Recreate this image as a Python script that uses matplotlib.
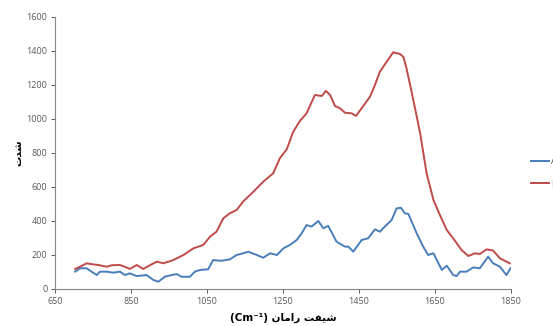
import matplotlib
matplotlib.use("Agg")
import matplotlib.pyplot as plt

# ---- data ----
red_x = [703, 715, 733, 750, 764, 786, 800, 821, 835, 847, 865, 882, 900, 918, 935, 961,
         988, 1014, 1040, 1058, 1075, 1093, 1110, 1128, 1145, 1172, 1198, 1224, 1242, 1260,
         1277, 1295, 1312, 1334, 1352, 1363, 1374, 1387, 1400, 1413, 1431, 1442, 1457, 1479,
         1492, 1505, 1523, 1540, 1558, 1567, 1575, 1593, 1611, 1628, 1646, 1663, 1681, 1698,
         1720, 1738, 1755, 1768, 1786, 1803, 1821, 1847]
red_y = [118, 130, 151, 145, 141, 131, 140, 141, 130, 118, 141, 118, 140, 161, 151, 170,
         200, 239, 259, 308, 337, 416, 445, 465, 514, 572, 631, 680, 770, 822,
         925, 990, 1033, 1141, 1135, 1165, 1141, 1076, 1063, 1037, 1033, 1018, 1063, 1131,
         1200, 1278, 1337, 1392, 1382, 1365, 1298, 1112, 916, 680, 523, 435, 347, 298,
         229, 194, 210, 206, 233, 226, 180, 151]

blue_x = [703, 716, 733, 746, 760, 768, 786, 803, 821, 834, 847, 865, 891, 909, 922, 939,
          957, 970, 983, 1005, 1018, 1032, 1053, 1066, 1088, 1110, 1128, 1145, 1159, 1181,
          1198, 1216, 1234, 1251, 1268, 1286, 1299, 1312, 1325, 1343, 1356, 1369, 1391, 1413,
          1422, 1435, 1457, 1474, 1492, 1505, 1518, 1536, 1549, 1560, 1571, 1580, 1602, 1619,
          1632, 1646, 1668, 1681, 1698, 1707, 1716, 1733, 1751, 1768, 1790, 1803, 1821, 1838,
          1849]
blue_y = [102, 122, 122, 102, 82, 102, 102, 96, 102, 82, 92, 76, 82, 53, 43, 72,
          82, 88, 72, 72, 102, 112, 116, 170, 166, 174, 200, 210, 219, 200,
          184, 210, 200, 239, 259, 288, 327, 376, 367, 400, 357, 371, 278, 249,
          249, 220, 288, 298, 351, 337, 367, 406, 474, 478, 445, 441, 327, 249,
          200, 210, 112, 137, 82, 76, 102, 102, 127, 122, 190, 151, 131, 82,
          122]

series_labels = ["A", "M"]
x_ticks = [650, 850, 1050, 1250, 1450, 1650, 1850]
y_ticks = [0, 200, 400, 600, 800, 1000, 1200, 1400, 1600]

# Persian labels, pre-shaped (presentation forms, visual order)
xlabel = "(Cm\u207b\u00b9) \ufee5\ufe8e\ufee3\ufe8d\ufead \ufe96\ufed4\ufef4\ufeb7"
ylabel = "\ufe95\ufeaa\ufeb7"

plt.rcParams['font.family'] = ['Open Sans', 'DejaVu Sans']

fig = plt.figure(figsize=(5.53, 3.26), dpi=100)
ax = fig.add_axes([0.0995, 0.1135, 0.8245, 0.8345])

ax.plot(blue_x, blue_y, color="#4a7ebb", lw=1.4, label=series_labels[0])
ax.plot(red_x, red_y, color="#be4b48", lw=1.4, label=series_labels[1])

ax.set_xlim(650, 1850)
ax.set_ylim(0, 1600)
ax.set_xticks(x_ticks)
ax.set_yticks(y_ticks)
ax.tick_params(labelsize=6.5, colors="#595959", length=3, width=0.7, pad=2.5)
for s in ["top", "right"]:
    ax.spines[s].set_visible(False)
for s in ["left", "bottom"]:
    ax.spines[s].set_color("#868686")
    ax.spines[s].set_linewidth(0.8)

ax.set_xlabel(xlabel, fontsize=7.5, fontweight="bold", family=['DejaVu Sans'], labelpad=5)
ax.set_ylabel(ylabel, fontsize=7.5, fontweight="bold", family=['DejaVu Sans'], labelpad=1.5)

leg = ax.legend(loc="center left", bbox_to_anchor=(1.031, 0.427), frameon=False,
                fontsize=6.5, handlelength=2.0, handletextpad=0.15, labelspacing=1.5,
                borderaxespad=0.3)
for t in leg.get_texts():
    t.set_color("#595959")

fig.savefig("out.png", dpi=100)
